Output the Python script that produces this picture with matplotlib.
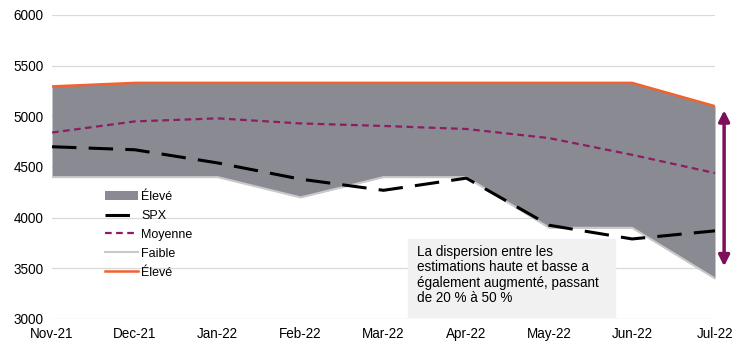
## S&P 500 year-end targets: high / low / mean estimates vs SPX
import numpy as np
import matplotlib.pyplot as plt

plt.rcParams['font.family'] = ['Liberation Sans', 'DejaVu Sans']

# data
months = ['Nov-21', 'Dec-21', 'Jan-22', 'Feb-22', 'Mar-22', 'Apr-22', 'May-22', 'Jun-22', 'Jul-22']
high = [5295, 5330, 5330, 5330, 5330, 5330, 5330, 5330, 5100]
low = [4400, 4400, 4400, 4200, 4400, 4400, 3900, 3900, 3400]
mean = [4840, 4950, 4980, 4930, 4905, 4875, 4785, 4620, 4440]
spx = [4700, 4670, 4540, 4380, 4270, 4390, 3925, 3790, 3870]
note = ("La dispersion entre les\nestimations haute et basse a\n"
        "également augmenté, passant\nde 20 % à 50 %")

x = np.arange(len(months))

fig = plt.figure(figsize=(7.49, 3.43), dpi=100)
ax = fig.add_axes([52/749, 24/343, 663/749, 304/343])

ax.fill_between(x, low, high, color='#898A92', lw=0, label='Élevé', zorder=2)
ax.plot(x, spx, color='black', lw=2.2, dashes=(8, 4), label='SPX', zorder=4)
ax.plot(x, mean, color='#8C1D62', lw=1.6, dashes=(3, 2), label='Moyenne', zorder=4)
ax.plot(x, low, color='#C9C9C9', lw=1.5, label='Faible', zorder=3)
ax.plot(x, high, color='#F2612E', lw=1.8, label='Élevé', zorder=3)

ax.set_xlim(0, 8)
ax.set_ylim(3000, 6000)
ax.set_yticks(range(3000, 6001, 500))
ax.set_xticks(x)
ax.set_xticklabels(months)
ax.tick_params(length=0, labelsize=9.75, colors='black')
ax.tick_params(axis='y', pad=6)
ax.tick_params(axis='x', pad=6)
ax.grid(axis='y', color='#D9D9D9', lw=0.9, zorder=0)
ax.set_axisbelow(True)
for s in ax.spines.values():
    s.set_visible(False)

# double arrow on the right showing the spread
ax.annotate('', xy=(8.11, 3520), xytext=(8.11, 5060), annotation_clip=False,
            arrowprops=dict(arrowstyle='<|-|>', color='#7D1059', lw=2.5,
                            mutation_scale=16, shrinkA=0, shrinkB=0))

# note box
fig.patches.append(plt.Rectangle((408/749, 26/343), 207/749, 78/343,
                                 transform=fig.transFigure, color='#F0F1F0', zorder=5))
fig.text(417/749, 1-245/343, note, fontsize=9.75, va='top', ha='left',
         linespacing=1.12, zorder=6)

ax.legend(loc='upper left', bbox_to_anchor=(105/749, 1-191/343),
          bbox_transform=fig.transFigure, frameon=False, fontsize=9,
          borderpad=0, borderaxespad=0, handlelength=2.6, handletextpad=0.3,
          labelspacing=0.55)

plt.savefig('out.png', dpi=100)
